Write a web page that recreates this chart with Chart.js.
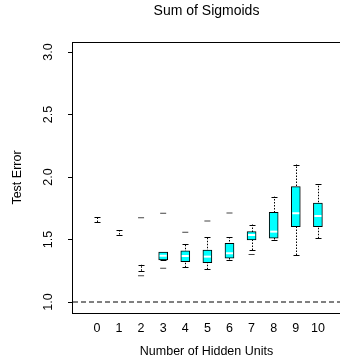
<!DOCTYPE html>
<html lang="en">
<head>
    <meta charset="UTF-8">
    <title>Sum of Sigmoids</title>
    <script src="https://cdn.jsdelivr.net/npm/chart.js"></script>
    <style>
        body { margin: 0; background: #fff; }
    </style>
</head>
<body>
    <canvas id="myChart" width="340" height="362"></canvas>

<script>
    // values
    const hiddenUnits   = [0, 1, 2, 3, 4, 5, 6, 7, 8, 9, 10];
    const lowerWhisker  = [1.64, 1.54, 1.25, 1.336, 1.278, 1.262, 1.34, 1.416, 1.50, 1.376, 1.51];
    const lowerQuartile = [1.66, 1.56, 1.275, 1.336, 1.323, 1.315, 1.35, 1.496, 1.51, 1.603, 1.603];
    const medians       = [1.66, 1.56, 1.275, 1.37, 1.368, 1.363, 1.39, 1.536, 1.563, 1.71, 1.688];
    const upperQuartile = [1.66, 1.56, 1.275, 1.40, 1.41, 1.416, 1.469, 1.563, 1.718, 1.923, 1.792];
    const upperWhisker  = [1.68, 1.58, 1.30, 1.40, 1.464, 1.523, 1.523, 1.62, 1.843, 2.10, 1.944];

    const outlierUnits  = [2, 2, 3, 3, 4, 5, 6, 7];
    const outlierValues = [1.21, 1.674, 1.27, 1.71, 1.558, 1.648, 1.712, 1.38];

    const yTicks = [1.0, 1.5, 2.0, 2.5, 3.0];
    const referenceLevel = 1.0;

    const font = "'Liberation Sans', Arial, Helvetica, sans-serif";

    // whiskers under the boxes, white medians and the frame on top
    const boxParts = {
        id: 'boxParts',
        beforeDatasetsDraw(chart) {
            const x = chart.scales.x, y = chart.scales.y, ctx = chart.ctx;
            ctx.save();
            ctx.strokeStyle = '#000';
            ctx.lineWidth = 1;
            hiddenUnits.forEach((u, i) => {
                const px = Math.round(x.getPixelForValue(u)) + 0.5;
                ctx.setLineDash([1.5, 1.5]);
                ctx.beginPath();
                ctx.moveTo(px, y.getPixelForValue(lowerWhisker[i]));
                ctx.lineTo(px, y.getPixelForValue(upperWhisker[i]));
                ctx.stroke();
                ctx.setLineDash([]);
                [lowerWhisker[i], upperWhisker[i]].forEach(v => {
                    const py = Math.round(y.getPixelForValue(v)) + 0.5;
                    ctx.beginPath();
                    ctx.moveTo(px - 3, py);
                    ctx.lineTo(px + 3, py);
                    ctx.stroke();
                });
            });
            ctx.restore();
        },
        afterDatasetsDraw(chart) {
            const x = chart.scales.x, y = chart.scales.y, ctx = chart.ctx;
            ctx.save();
            ctx.strokeStyle = '#fff';
            ctx.lineWidth = 2;
            hiddenUnits.forEach((u, i) => {
                if (upperQuartile[i] <= lowerQuartile[i]) return;
                const px = x.getPixelForValue(u);
                const py = y.getPixelForValue(medians[i]);
                ctx.beginPath();
                ctx.moveTo(px - 3.5, py);
                ctx.lineTo(px + 3.5, py);
                ctx.stroke();
            });
            const a = chart.chartArea;
            ctx.strokeStyle = '#000';
            ctx.lineWidth = 1;
            ctx.strokeRect(Math.round(a.left) - 0.5, Math.round(a.top) + 0.5,
                           Math.round(a.right - a.left) + 1, Math.round(a.bottom - a.top));
            ctx.restore();
        }
    };

    const xMin = -1.08, xMax = 11.0;

    const config = {
        type: 'bar',
        data: {
            datasets: [
                {
                    type: 'line',
                    data: [{x: xMin, y: referenceLevel}, {x: xMax, y: referenceLevel}],
                    borderColor: '#000',
                    borderWidth: 1,
                    borderDash: [5, 3],
                    pointRadius: 0,
                    order: 3
                },
                {
                    type: 'bar',
                    data: hiddenUnits.map((u, i) => ({x: u, y: [lowerQuartile[i], upperQuartile[i]]})),
                    backgroundColor: '#00ffff',
                    borderColor: '#000',
                    borderWidth: 1,
                    borderSkipped: false,
                    barThickness: 9,
                    order: 2
                },
                {
                    type: 'scatter',
                    data: outlierUnits.map((u, i) => ({x: u, y: outlierValues[i]})),
                    pointStyle: 'line',
                    pointRadius: 3,
                    borderColor: '#444',
                    borderWidth: 1,
                    order: 1
                }
            ]
        },
        options: {
            responsive: false,
            animation: false,
            devicePixelRatio: 1,
            layout: { padding: 0, autoPadding: false },
            plugins: {
                legend: { display: false },
                tooltip: { enabled: false },
                title: {
                    display: true,
                    text: 'Sum of Sigmoids',
                    fullSize: false,
                    color: '#000',
                    font: { family: font, size: 14, weight: 'normal' },
                    padding: { top: 3, bottom: 22.2 }
                }
            },
            scales: {
                x: {
                    type: 'linear',
                    offset: false,
                    min: xMin,
                    max: xMax,
                    afterBuildTicks: s => { s.ticks = hiddenUnits.map(v => ({value: v})); },
                    afterFit: s => { s.height = 49; },
                    grid: { display: false, drawTicks: false, offset: false },
                    border: { display: false },
                    ticks: {
                        autoSkip: false,
                        maxRotation: 0,
                        padding: 8,
                        color: '#000',
                        font: { family: font, size: 12.5 }
                    },
                    title: {
                        display: true,
                        text: 'Number of Hidden Units',
                        color: '#000',
                        font: { family: font, size: 12.5 },
                        padding: { top: 0, bottom: 2.5 }
                    }
                },
                y: {
                    type: 'linear',
                    min: 0.912,
                    max: 3.08,
                    afterBuildTicks: s => { s.ticks = yTicks.map(v => ({value: v})); },
                    afterFit: s => { s.width = 73; },
                    grid: {
                        display: true,
                        drawOnChartArea: false,
                        drawTicks: true,
                        tickLength: 5,
                        color: '#000'
                    },
                    border: { display: false },
                    ticks: {
                        minRotation: 90,
                        maxRotation: 90,
                        crossAlign: 'center',
                        padding: 11,
                        color: '#000',
                        font: { family: font, size: 12.5 },
                        callback: v => v.toFixed(1)
                    },
                    title: {
                        display: true,
                        text: 'Test Error',
                        color: '#000',
                        font: { family: font, size: 12.5 },
                        padding: { top: 10.5, bottom: 0 }
                    }
                }
            }
        },
        plugins: [boxParts]
    };

    new Chart(document.getElementById('myChart').getContext('2d'), config);
</script>
</body>
</html>
